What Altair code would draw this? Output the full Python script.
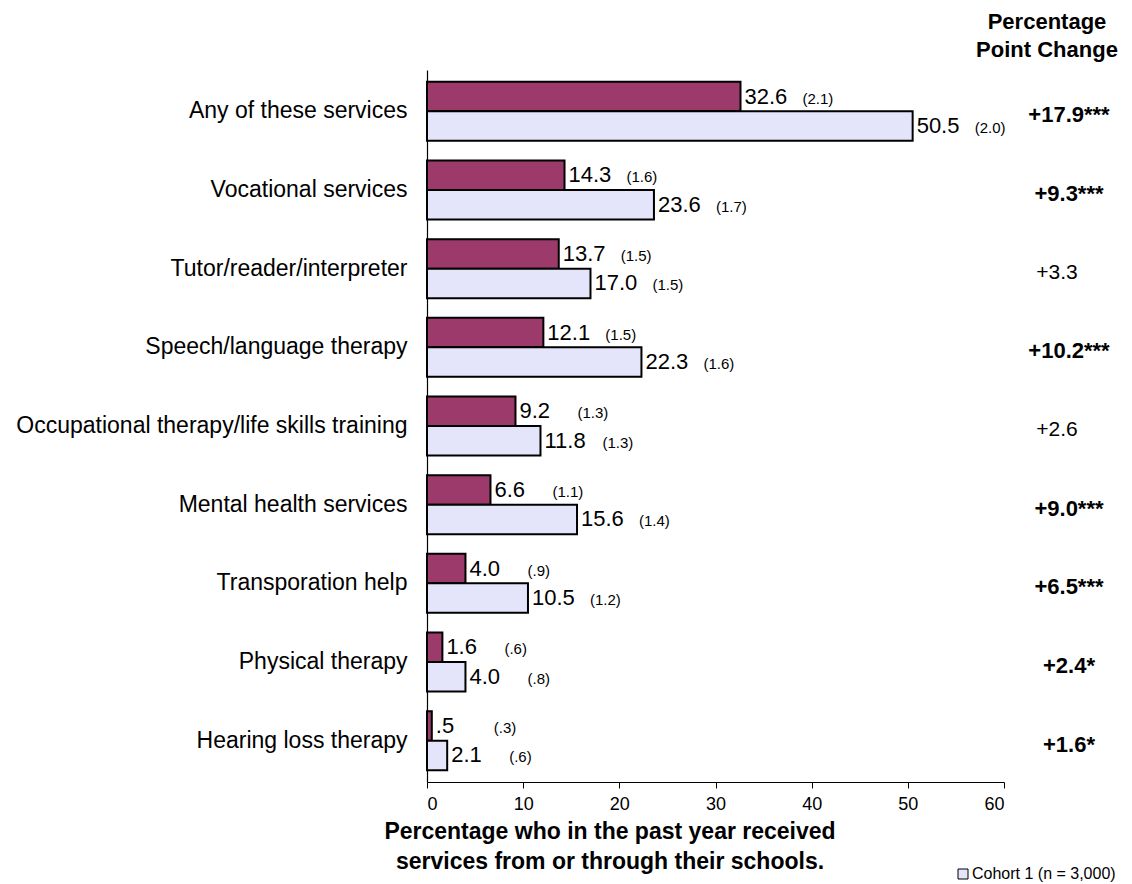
import altair as alt
import pandas as pd

services = [
    "Any of these services",
    "Vocational services",
    "Tutor/reader/interpreter",
    "Speech/language therapy",
    "Occupational therapy/life skills training",
    "Mental health services",
    "Transporation help",
    "Physical therapy",
    "Hearing loss therapy",
]
cohort1 = [32.6, 14.3, 13.7, 12.1, 9.2, 6.6, 4.0, 1.6, 0.5]
cohort2 = [50.5, 23.6, 17.0, 22.3, 11.8, 15.6, 10.5, 4.0, 2.1]
se1 = ["(2.1)", "(1.6)", "(1.5)", "(1.5)", "(1.3)", "(1.1)", "(.9)", "(.6)", "(.3)"]
se2 = ["(2.0)", "(1.7)", "(1.5)", "(1.6)", "(1.3)", "(1.4)", "(1.2)", "(.8)", "(.6)"]
changes = ["+17.9***", "+9.3***", "+3.3", "+10.2***", "+2.6", "+9.0***", "+6.5***", "+2.4*", "+1.6*"]
significant = [True, True, False, True, False, True, True, True, True]
cohorts = ["Cohort 1", "Cohort 2"]


def fmt(v):
    s = f"{v:.1f}"
    return s[1:] if s.startswith("0.") else s


rows = []
for i, s in enumerate(services):
    for c, vals, ses in ((cohorts[0], cohort1, se1), (cohorts[1], cohort2, se2)):
        rows.append({"service": s, "cohort": c, "value": vals[i],
                     "label": fmt(vals[i]), "se": ses[i]})
df = pd.DataFrame(rows)
chg = pd.DataFrame({"service": services, "change": changes, "sig": significant})

W, H = 577, 712
FONT = "Liberation Sans"
PINK = "#9C3A6B"
LAV = "#E4E4FA"

yscale = alt.Scale(domain=services, paddingInner=0.25, paddingOuter=0.15)
y_enc = alt.Y("service:N", sort=services, scale=yscale,
              axis=alt.Axis(title=None, ticks=False, labelPadding=20, labelFontSize=23,
                            labelFont=FONT, labelColor="black", domainColor="black",
                            domainWidth=1.2, labelLimit=600))
yoff = alt.YOffset("cohort:N", sort=cohorts, scale=alt.Scale(domain=cohorts))
xscale = alt.Scale(domain=[0, 60], nice=False)

bars = alt.Chart(df).mark_bar(stroke="black", strokeWidth=2).encode(
    x=alt.X("value:Q", scale=xscale,
            axis=alt.Axis(values=[0, 10, 20, 30, 40, 50, 60], title=None, grid=False,
                          labelFontSize=18, labelFont=FONT, labelColor="black",
                          domainColor="black", domainWidth=1.2, tickColor="black",
                          tickSize=6, labelPadding=7)),
    y=y_enc,
    yOffset=yoff,
    color=alt.Color("cohort:N", sort=cohorts,
                    scale=alt.Scale(domain=cohorts, range=[PINK, LAV]),
                    legend=None),
)

vals = alt.Chart(df).mark_text(align="left", baseline="middle", dx=4, fontSize=22,
                               font=FONT, color="black").encode(
    x=alt.X("value:Q", scale=xscale), y=alt.Y("service:N", sort=services, scale=yscale),
    yOffset=yoff, text="label:N")

ses = alt.Chart(df).mark_text(align="left", baseline="middle", dx=62, dy=2, fontSize=15,
                              font=FONT, color="black").encode(
    x=alt.X("value:Q", scale=xscale), y=alt.Y("service:N", sort=services, scale=yscale),
    yOffset=yoff, text="se:N")

chg_bold = alt.Chart(chg).transform_filter("datum.sig").mark_text(
    align="center", baseline="middle", fontSize=22, fontWeight="bold", font=FONT,
    color="black", dy=4).encode(
    x=alt.value(642), y=alt.Y("service:N", sort=services, scale=yscale), text="change:N")
chg_norm = alt.Chart(chg).transform_filter("!datum.sig").mark_text(
    align="center", baseline="middle", fontSize=21, font=FONT,
    color="black", dy=4).encode(
    x=alt.value(630), y=alt.Y("service:N", sort=services, scale=yscale), text="change:N")

header = alt.Chart(pd.DataFrame({"t": ["Percentage", "Point Change"], "yy": [-48, -20]})).mark_text(
    align="center", baseline="middle", fontSize=22, fontWeight="bold", font=FONT,
    color="black").encode(x=alt.value(620), y=alt.Y("yy:Q", scale=None), text="t:N")

xtitle = alt.Chart(pd.DataFrame({"t": ["Percentage who in the past year received",
                                       "services from or through their schools."],
                                 "yy": [H + 50, H + 80]})).mark_text(
    align="center", baseline="middle", fontSize=23, fontWeight="bold", font=FONT,
    color="black").encode(x=alt.value(183), y=alt.Y("yy:Q", scale=None), text="t:N")

legend_sym = alt.Chart(pd.DataFrame({"a": [1]})).mark_rect(
    fill=LAV, stroke="black", strokeWidth=1).encode(
    x=alt.value(531), x2=alt.value(541), y=alt.value(H + 87), y2=alt.value(H + 97))
legend_txt = alt.Chart(pd.DataFrame({"t": ["Cohort 1 (n = 3,000)"]})).mark_text(
    align="left", baseline="middle", fontSize=16, font=FONT, color="black").encode(
    x=alt.value(545), y=alt.value(H + 92), text="t:N")

chart = alt.layer(bars, vals, ses, chg_bold, chg_norm, header, xtitle, legend_sym, legend_txt).properties(
    width=W, height=H,
    autosize=alt.AutoSizeParams(type="none"),
    padding={"left": 419, "top": 62, "right": 118, "bottom": 102},
    background="white",
).configure_view(stroke="transparent", strokeWidth=0)

chart.save("out.html", embed_options={"renderer": "svg", "actions": False})
